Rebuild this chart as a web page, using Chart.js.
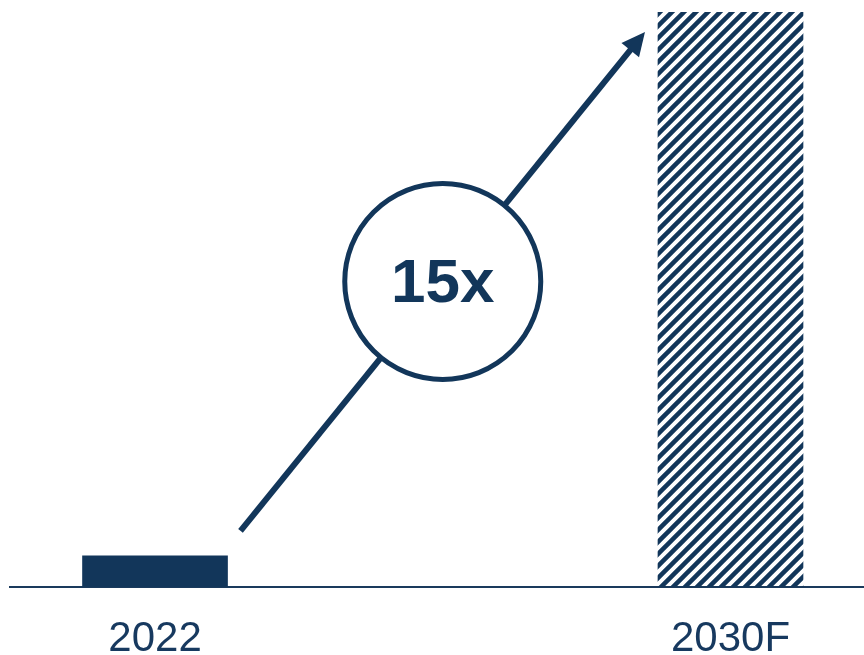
<!DOCTYPE html>
<html>
<head>
<meta charset="utf-8">
<script src="https://cdn.jsdelivr.net/npm/chart.js@4/dist/chart.umd.min.js"></script>
<style>
  html, body { margin: 0; padding: 0; background: #ffffff; }
  #wrap { width: 864px; height: 655px; }
</style>
</head>
<body>
<div id="wrap"><canvas id="chart" width="864" height="655"></canvas></div>
<script>
// Chart data
const categories = ["2022", "2030F"];
const values = [1.0, 18.5];          // relative size
const multipleLabel = "15x";

const navy = "#12365a";

// Diagonal hatch for the forecast bar
function makeHatch(color) {
  const size = 12;
  const c = document.createElement("canvas");
  c.width = size;
  c.height = size;
  const g = c.getContext("2d");
  g.strokeStyle = color;
  g.lineWidth = 4.5;
  g.beginPath();
  g.moveTo(0, size); g.lineTo(size, 0);
  g.moveTo(-size / 2, size / 2); g.lineTo(size / 2, -size / 2);
  g.moveTo(size / 2, size * 1.5); g.lineTo(size * 1.5, size / 2);
  g.stroke();
  return g.createPattern(c, "repeat");
}

// Arrow + circled multiple between the two bars
const growthArrow = {
  id: "growthArrow",
  afterDatasetsDraw(chart) {
    const bars = chart.getDatasetMeta(0).data;
    if (bars.length < 2) return;
    const a = bars[0], b = bars[1];
    const x0 = a.x + a.width / 2 + 13, y0 = a.y - 25;
    const x1 = b.x - b.width / 2 - 13, y1 = b.y + 20;
    const ctx = chart.ctx;
    const ang = Math.atan2(y1 - y0, x1 - x0);
    const head = 26;

    ctx.save();
    ctx.strokeStyle = navy;
    ctx.fillStyle = navy;
    ctx.lineWidth = 6;
    ctx.beginPath();
    ctx.moveTo(x0, y0);
    ctx.lineTo(x1 - Math.cos(ang) * head * 0.8, y1 - Math.sin(ang) * head * 0.8);
    ctx.stroke();

    ctx.beginPath();
    ctx.moveTo(x1, y1);
    ctx.lineTo(x1 - Math.cos(ang - 0.45) * head, y1 - Math.sin(ang - 0.45) * head);
    ctx.lineTo(x1 - Math.cos(ang + 0.45) * head, y1 - Math.sin(ang + 0.45) * head);
    ctx.closePath();
    ctx.fill();

    const cx = (x0 + x1) / 2, cy = (y0 + y1) / 2;
    ctx.beginPath();
    ctx.arc(cx, cy, 98, 0, Math.PI * 2);
    ctx.fillStyle = "#ffffff";
    ctx.fill();
    ctx.lineWidth = 5;
    ctx.stroke();

    ctx.fillStyle = navy;
    ctx.font = "bold 62px 'Liberation Sans', Arial, sans-serif";
    ctx.textAlign = "center";
    ctx.textBaseline = "middle";
    ctx.fillText(multipleLabel, cx, cy + 3);
    ctx.restore();
  }
};

const ctx = document.getElementById("chart").getContext("2d");

new Chart(ctx, {
  type: "bar",
  data: {
    datasets: [{
      data: values.map((v, i) => ({ x: i, y: v })),
      backgroundColor: [navy, makeHatch(navy)],
      borderWidth: 0,
      barThickness: 145
    }]
  },
  options: {
    responsive: false,
    animation: false,
    layout: { padding: { left: 10, right: 0, top: 12, bottom: 0 } },
    plugins: { legend: { display: false }, tooltip: { enabled: false } },
    scales: {
      x: {
        type: "linear",
        offset: false,
        min: -0.252,
        max: 1.232,
        grid: { display: false, drawTicks: false, offset: false },
        border: { display: true, color: "#1a3a5c", width: 2 },
        afterBuildTicks: (scale) => {
          scale.ticks = categories.map((c, i) => ({ value: i }));
        },
        afterFit: (scale) => { scale.height = 68; },
        ticks: {
          autoSkip: false,
          maxRotation: 0,
          padding: 27,
          color: "#17395f",
          font: { family: "'Liberation Sans', Arial, sans-serif", size: 42 },
          callback: (v) => categories[v]
        }
      },
      y: {
        display: false,
        min: 0,
        max: Math.max(...values)
      }
    }
  },
  plugins: [growthArrow]
});
</script>
</body>
</html>
